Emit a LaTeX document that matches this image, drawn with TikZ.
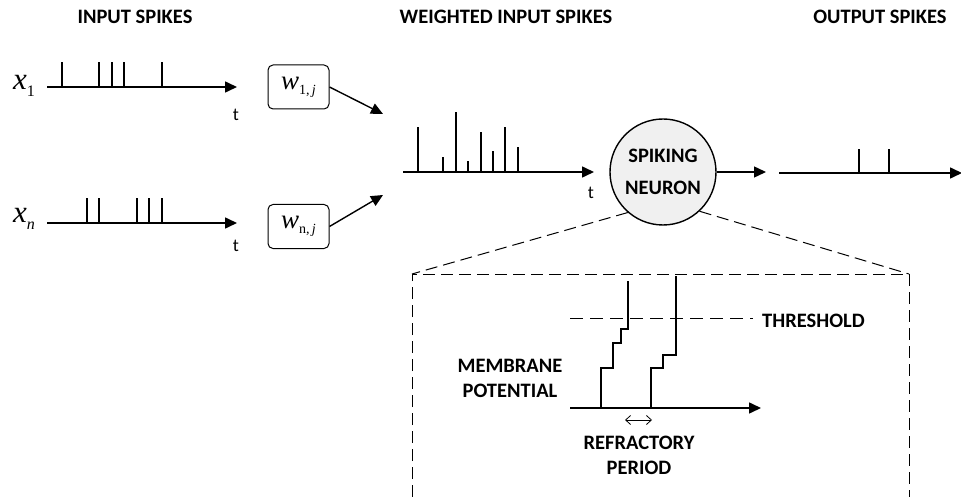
\documentclass[tikz,border=0pt]{standalone}
\usepackage{fontspec}
\setmainfont{Carlito}
\newfontfamily\tnr{Liberation Serif}
\usetikzlibrary{arrows.meta}
\begin{document}
\begin{tikzpicture}[x=1pt,y=-1pt,
  title/.style={font=\fontsize{20.5}{24}\selectfont\bfseries, inner sep=0pt},
  lbl/.style={font=\fontsize{20.5}{25}\selectfont\bfseries, inner sep=0pt, align=center},
  tlab/.style={font=\fontsize{18}{20}\selectfont, inner sep=0pt},
  axis/.style={line width=1.6pt, -{Triangle[length=12pt,width=11pt]}},
  spike/.style={line width=1.2pt},
  wbox/.style={draw, line width=1pt, rounded corners=5pt, minimum width=61pt, minimum height=44pt, inner sep=0pt},
  neuronst/.style={circle, draw, line width=1.4pt, fill=black!6, minimum size=106pt, inner sep=0pt, align=center, font=\fontsize{20.5}{32}\selectfont\bfseries},
  dsh/.style={line width=1pt, dash pattern=on 12pt off 6pt},
  thrdsh/.style={line width=1pt, dash pattern=on 13pt off 7pt},
  conn/.style={line width=1.4pt, -{Triangle[length=12pt,width=11pt]}}
]
\useasboundingbox (0,0) rectangle (961,497);

% titles
\node[title] (t1) at (135,17) {INPUT SPIKES};
\node[title] (t2) at (506,17) {WEIGHTED INPUT SPIKES};
\node[title] (t3) at (880,17) {OUTPUT SPIKES};

% input labels
\node[inner sep=0pt] (x1) at (24,86) {{\tnr\fontsize{31}{31}\selectfont\itshape x}\raisebox{-7pt}{\tnr\fontsize{16}{16}\selectfont 1}};
\node[inner sep=0pt] (xn) at (24,219) {{\tnr\fontsize{31}{31}\selectfont\itshape x}\raisebox{-7pt}{\tnr\fontsize{16}{16}\selectfont\itshape n}};

% input axis 1
\coordinate (a1s) at (47,87);
\coordinate (a1e) at (237,87);
\draw[axis] (a1s) -- (a1e);
\foreach \s in {62,99,112,124,162} \draw[spike] (\s,87) -- (\s,62);
\node[tlab] (tt1) at (236,115) {t};

% input axis n
\coordinate (a2s) at (47,223);
\coordinate (a2e) at (237,223);
\draw[axis] (a2s) -- (a2e);
\foreach \s in {87,99,137,149,162} \draw[spike] (\s,223) -- (\s,198);
\node[tlab] (tt2) at (236,246) {t};

% weights
\node[wbox] (w1) at (298.5,87) {{\tnr\fontsize{27}{27}\selectfont\itshape w}\raisebox{-5pt}{\tnr\fontsize{14}{14}\selectfont 1,\,\itshape j}};
\node[wbox] (wn) at (298.5,226.5) {{\tnr\fontsize{27}{27}\selectfont\itshape w}\raisebox{-5pt}{\tnr\fontsize{14}{14}\selectfont n,\,\itshape j}};
\coordinate (in1) at (383,114);
\coordinate (in2) at (383,195);
\draw[conn] (w1.east) -- (in1);
\draw[conn] (wn.east) -- (in2);

% weighted axis
\coordinate (a3s) at (403,172);
\coordinate (a3e) at (594,172);
\draw[axis] (a3s) -- (a3e);
\draw[spike] (418,172) -- (418,127);
\draw[spike] (443,172) -- (443,157);
\draw[spike] (456,172) -- (456,112);
\draw[spike] (468,172) -- (468,161);
\draw[spike] (481,172) -- (481,132);
\draw[spike] (493,172) -- (493,151);
\draw[spike] (505,172) -- (505,127);
\draw[spike] (518,172) -- (518,147);
\node[tlab] (tt3) at (591,193) {t};

% neuron
\node[neuronst] (neuron) at (663,172) {SPIKING\\NEURON};
\coordinate (nout) at (766,172);
\draw[conn] (neuron.east) -- (nout);

% output axis
\coordinate (a4s) at (779,173);
\coordinate (a4e) at (962,173);
\draw[axis] (a4s) -- (a4e);
\foreach \s in {859,889} \draw[spike] (\s,173) -- (\s,149);

% zoom box
\coordinate (bl) at (412,274);
\coordinate (br) at (909,274);
\draw[dsh] (neuron.229) -- (bl);
\draw[dsh] (neuron.313) -- (br);
\draw[dsh] (412,497) -- (bl) -- (br) -- (909,497);

% threshold
\coordinate (ths) at (570,318);
\coordinate (the) at (753,318);
\draw[thrdsh] (ths) -- (the);
\node[lbl, anchor=west] (thr) at (762,321) {THRESHOLD};

% membrane axis
\coordinate (m1) at (570,408);
\coordinate (m2) at (761,408);
\draw[axis] (m1) -- (m2);
\draw[spike] (601,408) -- (601,368) -- (613,368) -- (613,343) -- (621,343) -- (621,329) -- (628,329) -- (628,281);
\draw[spike] (651,408) -- (651,368) -- (663,368) -- (663,355) -- (676,355) -- (676,276);
\coordinate (r1) at (625,420);
\coordinate (r2) at (652,420);
\draw[line width=0.8pt, {Straight Barb[length=5pt,width=9pt]}-{Straight Barb[length=5pt,width=9pt]}] (r1) -- (r2);

\node[lbl] (mem) at (510,378) {MEMBRANE\\POTENTIAL};
\node[lbl] (ref) at (639,455) {REFRACTORY\\PERIOD};
\end{tikzpicture}
\end{document}
